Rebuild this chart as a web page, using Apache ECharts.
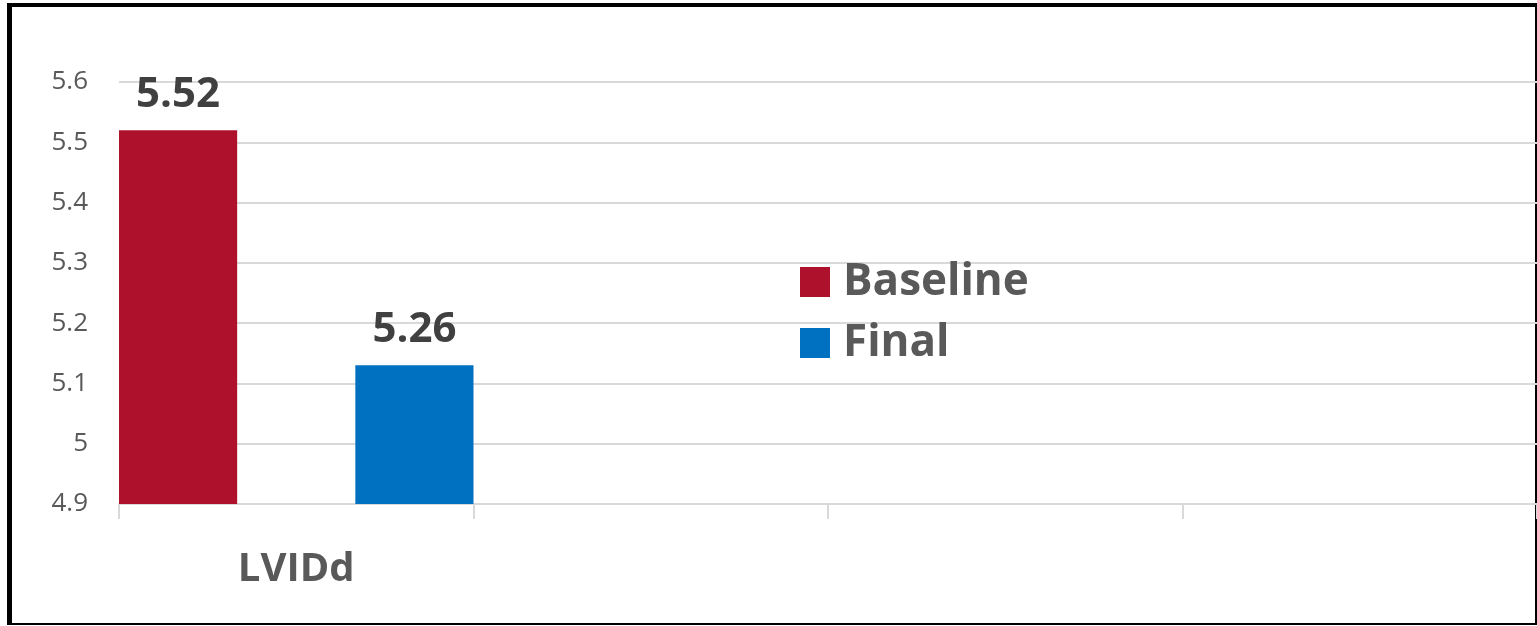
<!DOCTYPE html>
<html>
<head>
<meta charset="utf-8">
<script src="https://cdn.jsdelivr.net/npm/echarts@6/dist/echarts.min.js"></script>
<style>
html,body{margin:0;padding:0;background:#fff;}
#c{width:1537px;height:626px;}
</style>
</head>
<body>
<div id="c"></div>
<script>
const categories = ['LVIDd', '', '', ''];
const baselineValues = [5.52, null, null, null];
const finalValues = [5.13, null, null, null];
const baselineLabels = ['5.52', '', '', ''];
const finalLabels = ['5.26', '', '', ''];
const yMin = 4.9, yMax = 5.6, yStep = 0.1;

const chart = echarts.init(document.getElementById('c'));
const font = '"Open Sans", "Noto Sans", sans-serif';
const valLabel = (arr) => ({
  show: true, position: 'top', distance: 14,
  formatter: p => arr[p.dataIndex],
  fontFamily: font, fontWeight: 'bold', fontSize: 42, lineHeight: 42, color: '#404040'
});
chart.setOption({
  animation: false,
  backgroundColor: '#fff',
  grid: {left: 119, top: 82, width: 1419, height: 422, containLabel: false},
  legend: {
    orient: 'vertical', left: 800, top: 260, padding: 0,
    itemWidth: 30, itemHeight: 30, itemGap: 17,
    icon: 'rect',
    textStyle: {fontFamily: font, fontWeight: 'bold', fontSize: 44, lineHeight: 30, color: '#595959', padding: [0, 0, 0, 8]},
    data: ['Baseline', 'Final']
  },
  xAxis: {
    type: 'category', data: categories,
    axisLine: {lineStyle: {color: '#d9d9d9', width: 2}},
    axisTick: {show: true, length: 15, lineStyle: {color: '#d9d9d9', width: 2}},
    axisLabel: {margin: 46, fontFamily: font, fontWeight: 'bold', fontSize: 40, color: '#595959'}
  },
  yAxis: {
    type: 'value', min: yMin, max: yMax, interval: yStep,
    axisLine: {show: false}, axisTick: {show: false},
    splitLine: {lineStyle: {color: '#d9d9d9', width: 2}},
    axisLabel: {margin: 31, fontFamily: font, fontSize: 26, color: '#595959',
      formatter: v => String(+v.toFixed(1))}
  },
  series: [
    {name: 'Baseline', type: 'bar', data: baselineValues, barGap: '100%', barCategoryGap: 0,
     itemStyle: {color: '#AE112B'}, label: valLabel(baselineLabels)},
    {name: 'Final', type: 'bar', data: finalValues, barGap: '100%', barCategoryGap: 0,
     itemStyle: {color: '#0070C0'}, label: valLabel(finalLabels)}
  ],
  graphic: [
    {type: 'rect', shape: {x: 7, y: 3, width: 5, height: 622}, style: {fill: '#000'}},
    {type: 'rect', shape: {x: 7, y: 3, width: 1530, height: 4}, style: {fill: '#000'}},
    {type: 'rect', shape: {x: 1535, y: 3, width: 2, height: 622}, style: {fill: '#000'}},
    {type: 'rect', shape: {x: 7, y: 623, width: 1530, height: 2}, style: {fill: '#000'}}
  ]
});
</script>
</body>
</html>
